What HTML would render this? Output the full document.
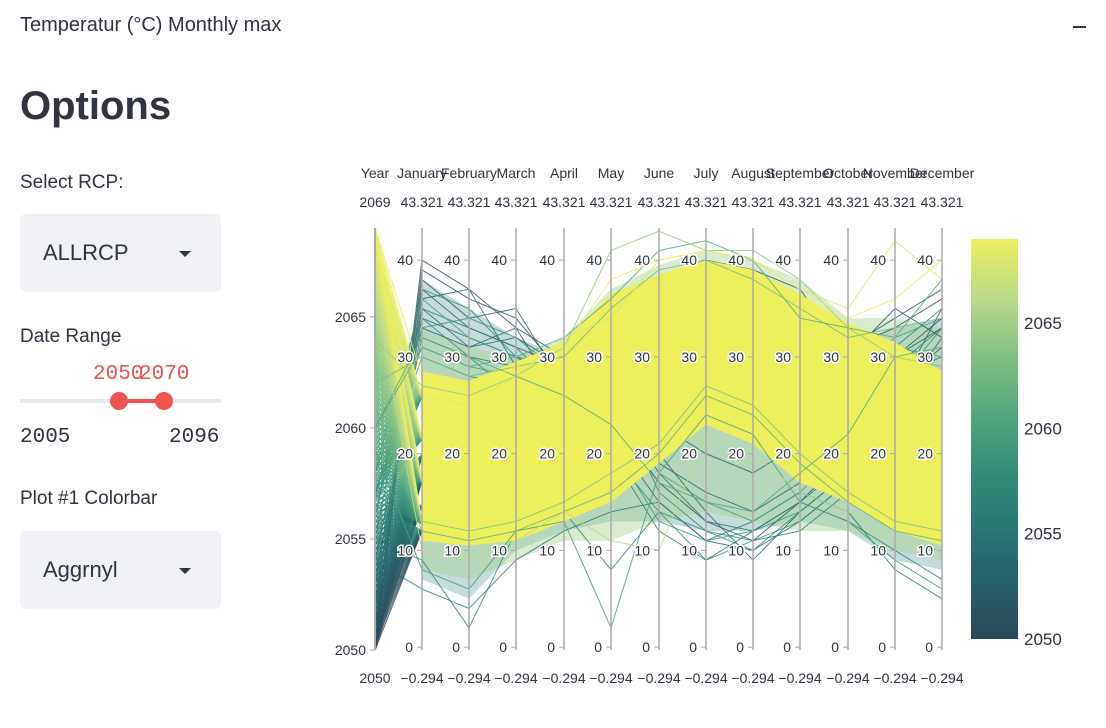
<!DOCTYPE html>
<html><head><meta charset="utf-8">
<style>
body{margin:0;width:1106px;height:728px;background:#fff;font-family:"Liberation Sans",sans-serif;color:#31333f;position:relative;overflow:hidden}
.abs{position:absolute}
.sel{position:absolute;left:20px;width:201px;height:78px;background:#f0f2f6;border-radius:6px}
.sel span{position:absolute;left:23px;top:26px;font-size:22px}
.caret{position:absolute;right:30px;top:37px;width:0;height:0;border-left:6px solid transparent;border-right:6px solid transparent;border-top:6px solid #31333f}
.lbl{font-size:19px}
.mono{font-family:"Liberation Mono",monospace;font-size:21px}
</style></head><body>
<div class="abs" style="left:20px;top:14px;font-size:20px">Temperatur (°C) Monthly max</div>
<div class="abs" style="left:1073px;top:26px;width:13px;height:2px;background:#31333f"></div>
<div class="abs" style="left:20px;top:84px;font-size:40px;font-weight:bold">Options</div>
<div class="abs lbl" style="left:20px;top:172px">Select RCP:</div>
<div class="sel" style="top:214px"><span>ALLRCP</span><div class="caret"></div></div>
<div class="abs lbl" style="left:20px;top:326px">Date Range</div>
<div class="abs mono" style="left:93px;top:363px;color:#ef5350">2050</div>
<div class="abs mono" style="left:139px;top:363px;color:#ef5350">2070</div>
<div class="abs" style="left:20px;top:399px;width:202px;height:4px;background:#e6e9ef;border-radius:2px"></div>
<div class="abs" style="left:119px;top:399px;width:45px;height:4px;background:#ef5350"></div>
<div class="abs" style="left:110px;top:392px;width:18px;height:18px;border-radius:50%;background:#ef5350"></div>
<div class="abs" style="left:155px;top:392px;width:18px;height:18px;border-radius:50%;background:#ef5350"></div>
<div class="abs mono" style="left:20px;top:426px">2005</div>
<div class="abs mono" style="left:169px;top:426px">2096</div>
<div class="abs lbl" style="left:20px;top:488px">Plot #1 Colorbar</div>
<div class="sel" style="top:531px"><span>Aggrnyl</span><div class="caret"></div></div>

<svg class="abs" style="left:0;top:0" width="1106" height="728">
<defs><linearGradient id="cb" x1="0" y1="1" x2="0" y2="0">
<stop offset="0" stop-color="#2a4858"/><stop offset="0.2" stop-color="#256a70"/><stop offset="0.4" stop-color="#2f8a78"/><stop offset="0.55" stop-color="#4fa57d"/><stop offset="0.7" stop-color="#7fbf83"/><stop offset="0.85" stop-color="#b9d98b"/><stop offset="1" stop-color="#edef5d"/></linearGradient></defs>
<g id="lines"></g><g id="axes"></g>
<rect x="971" y="239" width="47" height="400" fill="url(#cb)"/>
<g id="cbticks" font-size="17" fill="#31333f"></g>
</svg>
<script>
const months=["January","February","March","April","May","June","July","August","September","October","November","December"];
const yellowHi=[28.5,27.5,29.5,31.5,36.5,38.5,40,39,36.5,33.5,31.5,28.5];
const yellowLo=[11,10.5,11,13,15,19,23,21,17,15,12,10.5];
const greenHi=[33,31,30,32,37,39.5,41,40,38,34,34,33];
const greenLo=[8,7,9,11,11,13,14,13,12,12,10,9];
const darkHi=[38,35,32,30,34,38,40,39,36,31,33,34];
const darkLo=[7,5,10,12,13,13,12,12,13,12,9,8];
const lineYears=[2050,2050,2051,2051,2052,2052,2053,2053,2054,2054,2055,2055,2056,2056,2057,2057,2058,2058,2059,2060,2060,2061,2062,2063,2064,2066,2068,2069];
const lineVals=[
[40,37,33,25,33,38,40,39,37,30,35,32],
[39,36,34,28,30,35,37,36,33,31,33,36],
[38,34,35,27,30,29,31,30,33,31,34,37],
[37,33,31,29,24,17,13,11,15,20,30,34],
[36,37,29,26,27,23,20,18,21,24,30,33],
[35,31,33,30,28,20,14,9,14,18,26,35],
[33,31,32,29,25,19,16,14,17,22,27,31],
[34,32,30,27,22,15,11,10,13,17,25,32],
[6,4,9,12,14,15,11,13,16,14,8,5],
[32,30,29,28,26,18,13,12,15,19,28,30],
[9,2,12,14,8,14,9,12,15,13,10,7],
[35,33,31,26,20,12,9,11,12,16,29,33],
[34,30,26,22,20,14,12,10,14,18,24,28],
[37,35,30,28,27,16,12,11,13,17,31,35],
[30,28,27,28,34,36,38,37,33,29,31,30],
[33,34,32,28,21,13,11,12,14,18,27,33],
[31,29,28,27,25,18,15,13,16,21,30,29],
[36,32,30,29,33,37,39,38,34,28,32,34],
[8,6,12,13,2,18,24,22,15,13,9,6],
[31,29,30,32,36,41,42,40,34,33,32,38],
[32,30,28,26,23,17,15,14,18,22,30,31],
[12,11,12,14,16,20,26,24,19,15,12,11],
[30,28,29,30,35,39,40,38,35,32,33,34],
[13,12,13,15,18,21,27,25,20,16,13,12],
[27,26,28,31,41,43,41,41,38,33,30,29],
[10,9,11,14,11,10,22,20,16,14,11,10],
[26,25,28,32,34,40,41,40,37,35,42,38],
[28,27,29,31,38,40,41,40,37,34,36,40]];
const yearTicks=[2050,2055,2060,2065];
const valTicks=[0,10,20,30,40];
const cbTicks=[2050,2055,2060,2065];
const vMin=-0.294,vMax=43.321,yrMin=2050,yrMax=2069;
const ax=[375,422,469,516,564,611,659,706,753,800,848,895,942];
const yTop=228,yBot=650;
function yv(v){return yBot-(v-vMin)/(vMax-vMin)*(yBot-yTop);}
function yy(y){return yBot-(y-yrMin)/(yrMax-yrMin)*(yBot-yTop);}
function col(y){const t=Math.max(0,Math.min(1,(y-2050)/19));const cs=[[42,72,88],[37,106,112],[47,138,120],[79,165,125],[127,191,131],[185,217,139],[237,239,93]];const p=t*6,i=Math.min(5,Math.floor(p)),f=p-i;const a=cs[i],b=cs[i+1];return "rgb("+a.map((c,k)=>Math.round(c+(b[k]-c)*f)).join(",")+")";}
const NS="http://www.w3.org/2000/svg";
const LG=document.getElementById("lines"),AG=document.getElementById("axes");
function mk(tag,at,p){const e=document.createElementNS(NS,tag);for(const k in at)e.setAttribute(k,at[k]);p.appendChild(e);return e;}
function band(hi,lo,fill,op,name){let pts=[];hi.forEach((v,i)=>pts.push(ax[i+1]+","+yv(v)));for(let i=lo.length-1;i>=0;i--)pts.push(ax[i+1]+","+yv(lo[i]));const e=mk("polygon",{points:pts.join(" "),fill:fill,"fill-opacity":op},LG);

}
band(darkHi,darkLo,"#3f8a84",0.3,"band-early-years");
band(greenHi,greenLo,"#9fd08a",0.4,"band-mid-years");
lineYears.forEach((yr,i)=>{if(yr>2058)return;const pts=[ax[0]+","+yy(yr)].concat(lineVals[i].map((v,j)=>ax[j+1]+","+yv(v)));const e=mk("polyline",{points:pts.join(" "),fill:"none",stroke:col(yr),"stroke-width":1,"stroke-opacity":0.8},LG);

});
for(let y=2050;y<=2069;y+=0.25){const c=col(y);const f=(y-2050)/19;
[0.1,0.35,0.6,0.85].forEach(q=>{let v=yellowLo[0]+(yellowHi[0]-yellowLo[0])*q;if(f<0.35)v=yellowLo[0]+(yellowHi[0]-yellowLo[0])*q*0.6;const e=mk("line",{x1:ax[0],y1:yy(y),x2:ax[1],y2:yv(v),stroke:c,"stroke-width":1.2,"stroke-opacity":0.75},LG);

});}
band(yellowHi,yellowLo,"#edef5d",1,"band-recent-years");
lineYears.forEach((yr,i)=>{if(yr<=2058)return;const pts=[ax[0]+","+yy(yr)].concat(lineVals[i].map((v,j)=>ax[j+1]+","+yv(v)));const e=mk("polyline",{points:pts.join(" "),fill:"none",stroke:col(yr),"stroke-width":1,"stroke-opacity":0.85},LG);

});
function txt(x,y,s,anchor,name,halo){const e=mk("text",{x:x,y:y,"font-size":14,fill:"#31333f","text-anchor":anchor},AG);e.textContent=s;if(halo){e.setAttribute("stroke","#fff");e.setAttribute("stroke-width",3);e.setAttribute("paint-order","stroke");}

return e;}
ax.forEach((x,i)=>{const e=mk("line",{x1:x,y1:yTop,x2:x,y2:yBot,stroke:"#aaa","stroke-width":i==0?2:1.5},AG);


const nm=i==0?"Year":months[i-1];
txt(x,178,nm,"middle","axis-title-"+nm.toLowerCase());
txt(x,207,i==0?"2069":vMax.toFixed(3),"middle","axis-max-"+nm.toLowerCase());
txt(x,683,i==0?"2050":"\u2212"+Math.abs(vMin).toFixed(3),"middle","axis-min-"+nm.toLowerCase());
if(i==0){yearTicks.forEach(t=>{mk("line",{x1:x-5,x2:x,y1:yy(t),y2:yy(t),stroke:"#aaa"},AG);txt(x-9,yy(t)+5,t,"end","year-tick-"+t,false);});}
else{valTicks.forEach(t=>{mk("line",{x1:x-5,x2:x,y1:yv(t),y2:yv(t),stroke:"#aaa"},AG);txt(x-9,yv(t)+5,t,"end","tick-"+t,true);});}
});
const CB=document.getElementById("cbticks");
cbTicks.forEach(t=>{const y=639-(t-2050)/19*400;const e=mk("text",{x:1024,y:y+6},CB);e.textContent=t;

});
</script>
</body></html>
